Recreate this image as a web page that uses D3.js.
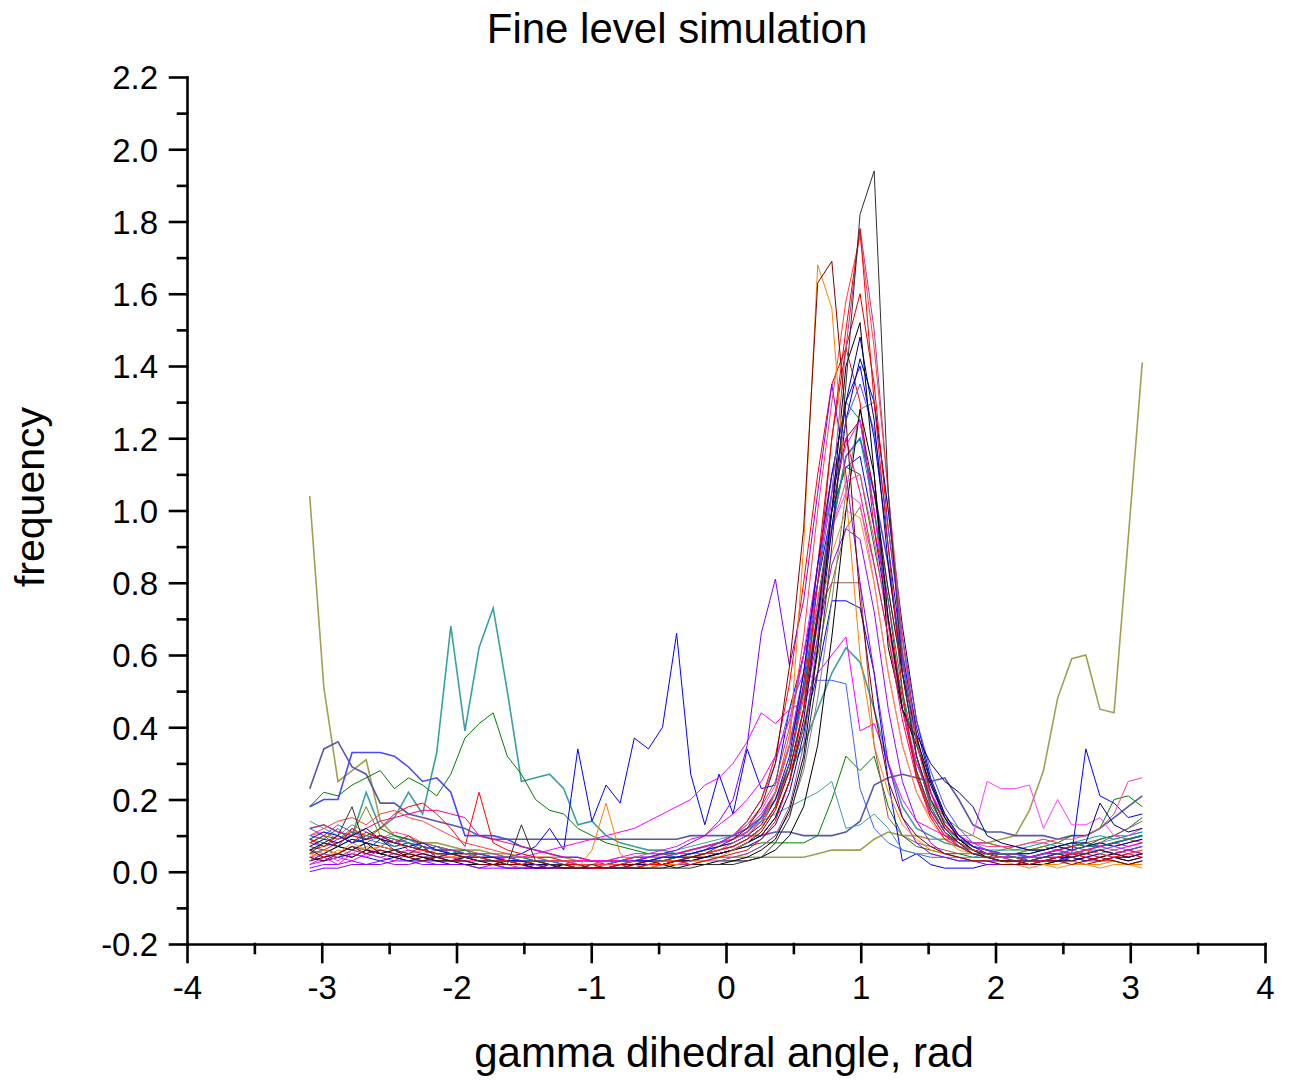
<!DOCTYPE html>
<html>
<head>
<meta charset="utf-8">
<script src="https://cdn.jsdelivr.net/npm/d3@7"></script>
<style>
  body { margin: 0; background: #fff; }
  text { font-family: Arial, "Liberation Sans", sans-serif; fill: #000; }
</style>
</head>
<body>
<svg id="chart" width="1289" height="1082"></svg>
<script>
// axis ticks
const xTicks = [-4, -3, -2, -1, 0, 1, 2, 3, 4];
const xMinorTicks = [-3.5, -2.5, -1.5, -0.5, 0.5, 1.5, 2.5, 3.5];
const yTicks = [-0.2, 0, 0.2, 0.4, 0.6, 0.8, 1.0, 1.2, 1.4, 1.6, 1.8, 2.0, 2.2];
const yMinorTicks = [-0.1, 0.1, 0.3, 0.5, 0.7, 0.9, 1.1, 1.3, 1.5, 1.7, 1.9, 2.1];

// 60 histogram bins over [-pi, pi], one x per bin centre
const angles = d3.range(60).map(i => -Math.PI + (i + 0.5) * Math.PI / 30);

// frequency per bin, one array per simulation run
const s01 = [.05,.08,.10,.18,.06,.09,.06,.05,.07,.04, .05,.04,.03,.03,.02,.13,.03,.02,.02,.01, .02,.01,.01,.01,.01,.01,.01,.01,.02,.02, .02,.03,.04,.08,.15,.30,.55,.90,1.35,1.82, 1.94,1.05,.55,.32,.20,.12,.08,.05,.04,.03, .03,.03,.04,.05,.04,.05,.06,.05,.04,.05];
const s02 = [.08,.10,.07,.12,.09,.10,.08,.07,.06,.05, .05,.04,.04,.03,.03,.02,.03,.02,.02,.02, .01,.01,.02,.01,.02,.02,.03,.02,.03,.04, .05,.06,.09,.14,.25,.45,.80,1.20,1.50,1.78, 1.30,.90,.50,.26,.15,.09,.07,.05,.04,.03, .03,.02,.03,.04,.05,.04,.03,.04,.05,.04];
const s03 = [.06,.04,.05,.07,.05,.06,.05,.04,.03,.04, .03,.03,.02,.02,.02,.02,.01,.02,.01,.01, .01,.01,.02,.02,.03,.02,.03,.04,.05,.07, .09,.12,.18,.30,.57,.95,1.63,1.69,1.25,.75, .45,.25,.15,.10,.07,.05,.04,.03,.03,.02, .02,.02,.03,.03,.02,.03,.04,.03,.02,.03];
const s04 = [.04,.06,.05,.08,.06,.07,.06,.05,.06,.05, .04,.05,.04,.03,.03,.02,.03,.02,.02,.01, .06,.19,.05,.02,.01,.02,.02,.03,.03,.04, .06,.08,.12,.22,.35,.90,1.68,1.56,1.05,.60, .35,.22,.13,.09,.06,.05,.04,.03,.03,.02, .02,.01,.02,.02,.03,.02,.02,.03,.02,.02];
const s05 = [.10,.12,.14,.15,.13,.16,.17,.15,.14,.12, .10,.08,.07,.06,.05,.04,.04,.03,.03,.02, .02,.02,.02,.03,.02,.03,.03,.04,.05,.06, .08,.10,.14,.22,.38,.65,1.00,1.30,1.58,1.76, 1.45,1.05,.65,.36,.20,.12,.08,.06,.05,.04, .04,.03,.03,.04,.05,.06,.05,.04,.05,.06];
const s06 = [.03,.05,.04,.06,.05,.04,.05,.04,.03,.04, .03,.03,.02,.02,.02,.01,.02,.01,.01,.01, .01,.01,.01,.01,.02,.02,.02,.02,.03,.03, .04,.05,.07,.10,.18,.35,.65,1.05,1.45,1.78, 1.50,1.05,.60,.32,.18,.11,.07,.05,.04,.04, .03,.03,.04,.05,.06,.05,.08,.10,.12,.14];
const s07 = [.07,.09,.08,.10,.12,.09,.08,.07,.06,.05, .05,.04,.04,.03,.03,.02,.02,.02,.01,.01, .01,.01,.01,.02,.02,.02,.03,.03,.04,.05, .06,.08,.10,.15,.25,.42,.70,1.00,1.30,1.48, 1.25,.85,.55,.38,.30,.25,.22,.18,.10,.08, .07,.06,.06,.07,.08,.08,.19,.13,.11,.12];
const s08 = [.03,.05,.07,.06,.08,.05,.06,.04,.05,.04, .03,.04,.03,.02,.03,.02,.02,.01,.02,.01, .01,.01,.01,.01,.01,.02,.01,.02,.02,.03, .03,.04,.06,.09,.17,.32,.62,1.00,1.40,1.52, 1.10,.70,.45,.35,.24,.15,.09,.06,.04,.03, .03,.02,.02,.03,.03,.04,.03,.04,.03,.04];
const s09 = [.09,.11,.10,.08,.09,.10,.08,.07,.08,.06, .05,.05,.04,.04,.03,.03,.02,.02,.02,.02, .02,.02,.02,.03,.03,.04,.04,.05,.06,.07, .08,.10,.13,.20,.32,.55,.85,1.10,1.30,1.40, 1.20,.90,.60,.40,.25,.16,.10,.07,.05,.04, .04,.03,.03,.04,.03,.04,.05,.04,.04,.05];
const s10 = [.12,.10,.13,.11,.09,.10,.08,.09,.07,.06, .06,.05,.05,.04,.04,.03,.03,.03,.02,.02, .02,.02,.03,.03,.03,.04,.05,.05,.06,.08, .10,.12,.15,.22,.35,.55,.80,1.05,1.25,1.35, 1.22,.95,.65,.42,.28,.18,.12,.08,.06,.05, .05,.04,.04,.05,.05,.06,.06,.07,.06,.07];
const s11 = [.00,.01,.01,.02,.02,.02,.03,.03,.02,.02, .02,.02,.01,.01,.01,.01,.01,.01,.02,.02, .02,.02,.03,.03,.04,.05,.06,.08,.10,.14, .20,.35,.66,.81,.57,.75,1.05,1.35,1.10,.80, .55,.30,.15,.08,.05,.04,.03,.03,.02,.02, .02,.02,.03,.03,.04,.03,.03,.04,.03,.04];
const s12 = [.02,.04,.02,.05,.04,.06,.05,.06,.05,.04, .04,.03,.03,.03,.02,.02,.02,.02,.02,.03, .03,.03,.04,.05,.05,.06,.07,.09,.10,.13, .16,.20,.25,.32,.42,.60,.85,1.05,1.18,1.25, 1.00,.70,.45,.30,.22,.15,.10,.07,.06,.05, .05,.04,.05,.06,.05,.06,.07,.06,.07,.08];
const s13 = [.12,.13,.11,.10,.12,.14,.15,.16,.17,.17, .16,.15,.10,.09,.08,.07,.06,.05,.04,.04, .03,.03,.03,.04,.04,.05,.05,.06,.07,.08, .10,.12,.16,.22,.35,.55,.85,1.10,1.20,1.05, .85,.65,.42,.26,.16,.10,.07,.05,.04,.04, .03,.03,.04,.04,.05,.05,.06,.05,.06,.05];
const s14 = [.10,.09,.12,.08,.10,.09,.07,.08,.06,.07, .05,.06,.04,.04,.03,.03,.03,.02,.02,.02, .02,.02,.02,.03,.03,.03,.04,.05,.06,.07, .08,.10,.14,.20,.30,.50,.80,1.10,1.30,1.25, 1.00,.75,.50,.32,.20,.14,.10,.07,.06,.05, .04,.04,.05,.05,.06,.07,.07,.08,.09,.10];
const s15 = [.12,.13,.11,.10,.22,.12,.15,.22,.16,.33, .68,.39,.62,.73,.50,.25,.26,.27,.23,.13, .14,.10,.08,.07,.06,.06,.05,.06,.07,.08, .10,.12,.15,.20,.28,.35,.45,.55,.62,.58, .45,.30,.18,.12,.10,.08,.07,.06,.05,.05, .05,.04,.05,.06,.05,.06,.07,.08,.09,.10];
const s16 = [.18,.22,.21,.24,.26,.28,.23,.26,.24,.21, .27,.37,.41,.44,.32,.27,.20,.17,.16,.12, .10,.08,.07,.06,.05,.05,.04,.04,.05,.05, .06,.07,.08,.08,.08,.08,.10,.20,.32,.28, .32,.18,.10,.07,.06,.05,.05,.04,.04,.05, .05,.06,.07,.08,.10,.10,.12,.20,.21,.18];
const s17 = [1.04,.51,.25,.28,.31,.14,.10,.09,.08,.08, .07,.06,.06,.05,.05,.04,.04,.04,.04,.03, .03,.03,.03,.03,.04,.04,.04,.04,.04,.04, .04,.04,.04,.04,.04,.04,.05,.06,.06,.06, .09,.11,.10,.10,.09,.09,.09,.08,.08,.09, .10,.17,.28,.48,.59,.60,.45,.44,.92,1.41];
const s18 = [.23,.34,.36,.29,.27,.19,.19,.16,.15,.14, .13,.12,.10,.09,.09,.09,.09,.09,.09,.09, .09,.09,.09,.09,.09,.09,.09,.10,.10,.10, .10,.10,.10,.11,.11,.10,.10,.10,.11,.14, .24,.26,.27,.26,.25,.26,.20,.13,.11,.11, .10,.10,.10,.09,.10,.10,.12,.15,.18,.21];
const s19 = [.05,.06,.05,.07,.06,.05,.04,.05,.04,.04, .05,.04,.05,.04,.04,.05,.07,.12,.06,.34, .14,.24,.19,.37,.34,.40,.66,.27,.13,.27, .16,.34,.23,.24,.45,.60,.80,1.00,1.12,1.15, .95,.70,.45,.28,.17,.11,.08,.06,.05,.04, .04,.04,.05,.05,.04,.05,.06,.05,.06,.05];
const s20 = [.18,.20,.20,.33,.33,.33,.32,.29,.25,.26, .22,.10,.10,.10,.09,.07,.06,.05,.04,.04, .03,.03,.03,.04,.04,.05,.05,.06,.07,.08, .09,.11,.15,.22,.35,.50,.70,.95,1.15,1.20, 1.05,.85,.58,.36,.22,.13,.09,.07,.06,.05, .05,.04,.05,.06,.07,.08,.07,.08,.09,.10];
const s21 = [.06,.05,.07,.06,.08,.07,.09,.06,.05,.06, .05,.04,.04,.04,.03,.03,.03,.02,.02,.02, .02,.03,.03,.03,.04,.04,.05,.06,.07,.08, .10,.13,.18,.25,.40,.60,.72,.80,.80,.80, .35,.15,.10,.08,.07,.06,.05,.05,.05,.06, .07,.08,.09,.08,.07,.08,.09,.10,.09,.10];
const s22 = [.02,.03,.04,.03,.05,.04,.03,.05,.04,.04, .03,.04,.03,.03,.04,.04,.05,.06,.07,.08, .09,.10,.11,.12,.14,.16,.18,.20,.24,.26, .30,.36,.44,.41,.45,.47,.55,.60,.65,.39, .41,.30,.20,.14,.12,.10,.09,.08,.08,.07, .07,.06,.06,.07,.06,.07,.08,.07,.08,.09];
const s23 = [.04,.03,.04,.05,.04,.03,.04,.03,.03,.03, .02,.02,.02,.02,.01,.01,.01,.01,.01,.01, .01,.01,.01,.01,.02,.02,.03,.03,.04,.05, .06,.08,.10,.15,.25,.40,.55,.75,.75,.73, .55,.25,.03,.05,.02,.01,.01,.01,.02,.02, .02,.03,.03,.03,.05,.34,.21,.19,.15,.16];
const s24 = [.08,.07,.09,.10,.09,.08,.07,.08,.06,.07, .06,.05,.05,.04,.04,.03,.03,.03,.02,.02, .02,.02,.03,.03,.03,.04,.04,.05,.06,.08, .10,.14,.20,.30,.45,.55,.53,.53,.52,.23, .12,.08,.06,.05,.04,.04,.03,.03,.03,.03, .03,.04,.04,.05,.04,.05,.06,.05,.06,.07];
const s25 = [.14,.12,.10,.13,.11,.09,.10,.08,.07,.06, .06,.05,.05,.04,.04,.04,.03,.03,.03,.03, .03,.03,.04,.04,.05,.05,.06,.07,.08,.09, .10,.12,.14,.16,.18,.20,.22,.25,.12,.13, .16,.12,.06,.05,.05,.04,.04,.04,.05,.05, .05,.06,.06,.07,.08,.07,.08,.09,.10,.11];
const s26 = [.06,.07,.08,.10,.18,.10,.09,.08,.07,.06, .06,.05,.05,.04,.04,.03,.03,.03,.03,.02, .02,.02,.02,.02,.03,.03,.03,.04,.04,.05, .06,.08,.10,.15,.25,.40,.60,.80,.95,1.01, .85,.65,.45,.30,.20,.15,.12,.10,.08,.07, .06,.06,.07,.06,.07,.08,.07,.08,.09,.08];
const s27 = [.08,.10,.09,.11,.10,.12,.10,.09,.08,.07, .06,.06,.05,.05,.04,.04,.03,.03,.03,.02, .02,.02,.02,.02,.03,.03,.04,.04,.05,.06, .07,.09,.12,.18,.30,.50,.75,1.00,1.12,1.10, .90,.70,.48,.28,.17,.11,.08,.06,.05,.05, .05,.05,.06,.07,.08,.07,.09,.10,.12,.15];
const s28 = [.07,.06,.08,.10,.09,.12,.16,.18,.19,.16, .12,.07,.22,.08,.06,.05,.04,.04,.03,.03, .03,.02,.02,.03,.03,.03,.04,.05,.06,.08, .10,.14,.20,.32,.52,.80,1.10,1.35,1.45,1.30, .95,.75,.45,.27,.16,.10,.08,.06,.05,.05, .05,.04,.05,.06,.07,.06,.07,.08,.07,.08];
const s29 = [.05,.06,.05,.07,.06,.05,.06,.05,.04,.05, .04,.04,.03,.03,.03,.02,.02,.02,.02,.01, .01,.01,.01,.02,.02,.02,.02,.03,.03,.04, .04,.05,.07,.10,.16,.28,.48,.75,1.05,1.28, 1.30,1.00,.62,.36,.20,.12,.08,.06,.05,.04, .04,.03,.04,.04,.05,.04,.05,.06,.05,.06];
const s30 = [.09,.08,.07,.09,.08,.10,.09,.08,.07,.06, .05,.05,.04,.04,.04,.03,.03,.03,.02,.02, .02,.02,.03,.03,.03,.04,.04,.05,.05,.06, .07,.09,.12,.18,.28,.45,.70,.95,1.15,1.20, 1.00,.78,.55,.32,.19,.12,.09,.07,.06,.06, .06,.07,.08,.07,.08,.09,.10,.09,.10,.11];
const s31 = [.10,.11,.09,.12,.10,.09,.11,.10,.08,.07, .06,.06,.05,.05,.04,.04,.04,.03,.03,.03, .03,.03,.03,.04,.04,.05,.05,.06,.07,.08, .09,.11,.14,.20,.30,.48,.72,.95,1.08,1.10, .92,.68,.45,.30,.20,.14,.10,.08,.07,.07, .07,.08,.08,.09,.09,.10,.12,.16,.25,.26];
const s32 = [.04,.05,.03,.06,.05,.07,.06,.05,.06,.05, .04,.04,.03,.03,.03,.03,.02,.02,.02,.02, .02,.03,.03,.03,.04,.04,.05,.06,.07,.08, .10,.13,.17,.24,.35,.52,.75,.95,1.05,1.02, .80,.55,.35,.22,.15,.12,.10,.10,.25,.23, .23,.24,.12,.20,.13,.13,.15,.10,.10,.12];
const s33 = [.06,.08,.07,.09,.08,.07,.06,.07,.06,.05, .05,.04,.04,.03,.03,.03,.02,.02,.02,.02, .01,.02,.02,.02,.02,.03,.03,.04,.04,.05, .06,.07,.09,.13,.22,.38,.62,.95,1.25,1.42, 1.30,1.00,.68,.42,.26,.16,.10,.07,.06,.05, .05,.05,.06,.07,.06,.07,.08,.07,.08,.09];
const s34 = [.01,.02,.02,.03,.02,.03,.02,.02,.03,.02, .02,.02,.01,.02,.01,.01,.01,.01,.01,.01, .01,.01,.02,.02,.02,.03,.03,.04,.05,.06, .07,.09,.12,.18,.28,.45,.65,.85,.95,.92, .72,.45,.25,.14,.08,.05,.04,.03,.03,.03, .03,.03,.04,.04,.05,.05,.06,.05,.06,.07];
const s35 = [.05,.04,.06,.05,.07,.06,.05,.04,.05,.04, .04,.03,.03,.03,.02,.02,.02,.02,.01,.01, .01,.02,.02,.02,.03,.03,.03,.04,.05,.06, .07,.09,.12,.18,.28,.45,.68,.88,1.00,.98, .80,.55,.35,.22,.14,.09,.06,.05,.04,.03, .02,.02,.02,.01,.02,.02,.01,.02,.02,.01];
const s36 = [.09,.07,.10,.08,.11,.09,.08,.10,.07,.06, .06,.05,.05,.04,.04,.03,.03,.02,.02,.02, .02,.02,.02,.02,.03,.03,.04,.04,.05,.06, .07,.09,.12,.18,.30,.52,.85,1.20,1.45,1.60, 1.35,.95,.65,.38,.22,.13,.09,.06,.05,.04, .04,.03,.03,.04,.04,.05,.04,.05,.04,.05];
const s37 = [.04,.03,.05,.04,.06,.05,.04,.05,.04,.03, .03,.03,.02,.02,.02,.02,.01,.01,.01,.01, .01,.01,.02,.02,.02,.02,.03,.03,.04,.05, .06,.08,.11,.17,.28,.45,.72,1.00,1.20,1.25, 1.05,.78,.55,.32,.18,.11,.07,.05,.04,.03, .03,.02,.02,.03,.03,.02,.03,.03,.02,.03];
const s38 = [.03,.04,.05,.04,.06,.05,.04,.03,.04,.03, .03,.02,.02,.02,.02,.02,.01,.01,.01,.01, .01,.01,.01,.01,.01,.01,.02,.02,.02,.02, .03,.03,.04,.06,.10,.18,.35,.65,1.00,1.28, 1.10,.62,.45,.37,.25,.15,.09,.06,.05,.04, .04,.03,.03,.04,.04,.03,.04,.05,.04,.05];

const seriesList = [s17, s15, s18, s20, s16, s19, s21, s22, s23, s24, s25, s26, s27, s28, s29, s30,
  s31, s32, s33, s34, s35, s36, s37, s38, s14, s13, s12, s11, s10, s09, s08, s07, s06, s05, s04, s03, s02, s01];
const seriesColors = ['#a0a050', '#3aa0a0', '#5858a8', '#4848ff', '#008000', '#0000ff', '#a05050', '#ff00ff',
  '#0000ff', '#4060ff', '#40a0a0', '#808000', '#008000', '#ff0000', '#808080', '#00a0a0',
  '#ff4090', '#ff40ff', '#0000a0', '#a000ff', '#ff9020', '#e00000', '#800000', '#000000', '#008080', '#ff0080',
  '#ff00ff', '#8000ff', '#5050ff', '#0000ff', '#000000', '#000080', '#a040a0', '#ff4040', '#ff8000', '#800000',
  '#ff0000', '#303030'];
// the first four runs are drawn a little heavier in the original
const heavyCount = 4;

const svg = d3.select('#chart');

const x = d3.scaleLinear().domain([-4, 4]).range([187, 1265]);
const y = d3.scaleLinear().domain([-0.2, 2.2]).range([944, 77]);

// lines
const line = d3.line()
    .x((d, i) => x(angles[i]))
    .y(d => y(d));

svg.append('g')
    .selectAll('path')
    .data(seriesList)
    .enter()
    .append('path')
    .attr('d', d => line(d))
    .attr('fill', 'none')
    .attr('stroke', (d, i) => seriesColors[i])
    .attr('stroke-width', (d, i) => i < heavyCount ? 1.6 : 1)
    .attr('stroke-linejoin', 'miter');

// axes
const xAxis = svg.append('g')
    .attr('transform', 'translate(0,944)')
    .call(d3.axisBottom(x).tickValues(xTicks).tickSize(18).tickSizeOuter(0).tickPadding(14)
        .tickFormat(d => String(d)));
svg.append('g')
    .attr('transform', 'translate(0,944)')
    .call(d3.axisBottom(x).tickValues(xMinorTicks).tickSize(9).tickSizeOuter(0).tickFormat(''))
    .select('.domain').remove();

const yAxis = svg.append('g')
    .attr('transform', 'translate(187,0)')
    .call(d3.axisLeft(y).tickValues(yTicks).tickSize(17).tickSizeOuter(0).tickPadding(12)
        .tickFormat(d => d.toFixed(1)));
svg.append('g')
    .attr('transform', 'translate(187,0)')
    .call(d3.axisLeft(y).tickValues(yMinorTicks).tickSize(9).tickSizeOuter(0).tickFormat(''))
    .select('.domain').remove();

svg.selectAll('.domain, .tick line')
    .attr('stroke', '#000')
    .attr('stroke-width', 2.6)
    .attr('stroke-linecap', 'square');
svg.selectAll('.tick text')
    .style('font-family', 'Arial, "Liberation Sans", sans-serif')
    .style('font-size', '33px')
    .attr('fill', '#000');
yAxis.selectAll('.tick text').attr('dy', '0.36em');

// titles
svg.append('text')
    .attr('x', 677)
    .attr('y', 43)
    .attr('text-anchor', 'middle')
    .style('font-size', '42px')
    .text('Fine level simulation');

svg.append('text')
    .attr('x', 724)
    .attr('y', 1067)
    .attr('text-anchor', 'middle')
    .style('font-size', '42px')
    .text('gamma dihedral angle, rad');

svg.append('text')
    .attr('transform', 'translate(44,497) rotate(-90)')
    .attr('text-anchor', 'middle')
    .style('font-size', '41px')
    .text('frequency');
</script>
</body>
</html>
